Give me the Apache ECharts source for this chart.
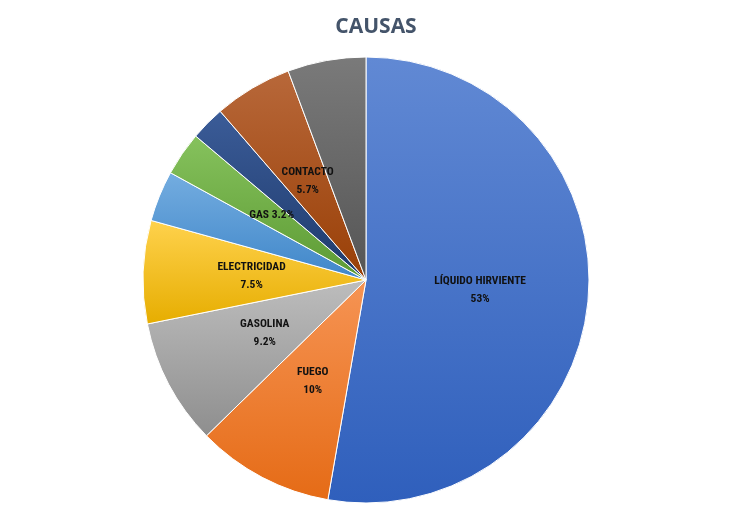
<!DOCTYPE html>
<html>
<head>
    <meta charset="utf-8">
    <title>Causas</title>
    <script src="https://cdn.jsdelivr.net/npm/echarts@6/dist/echarts.min.js"></script>
    <style>
        html, body {margin:0;padding:0;background:#fff;}
        #chart {width:752px;height:521px;}
    </style>
</head>
<body>
<div id="chart"></div>
<script>
    const categories = ['LÍQUIDO HIRVIENTE', 'FUEGO', 'GASOLINA', 'ELECTRICIDAD', 'QUÍMICO', 'GAS', 'POLVORA', 'CONTACTO', 'OTROS']
    const values = [53, 10, 9.2, 7.5, 3.7, 3.2, 2.5, 5.7, 5.7]
    const labels = ['LÍQUIDO HIRVIENTE\n53%', 'FUEGO\n10%', 'GASOLINA\n9.2%', 'ELECTRICIDAD\n7.5%', 'QUÍMICO\n3.7%', 'GAS 3.2%', 'POLVORA\n2.5%', 'CONTACTO\n5.7%', 'OTROS\n5.7%']
    // light / dark end of each slice gradient
    const colors = [
        ['#6189d4', '#2f5fbc'],
        ['#f69454', '#e56b16'],
        ['#bdbdbd', '#8e8e8e'],
        ['#ffd24d', '#e6ad00'],
        ['#74ade0', '#3f86c9'],
        ['#86c25d', '#5c9a33'],
        ['#3b5c98', '#1e3a6c'],
        ['#b8683a', '#993f06'],
        ['#7a7a7a', '#555555']
    ]

    const chart = echarts.init(document.getElementById('chart'))
    chart.setOption({
        animation: false,
        title: {
            text: 'CAUSAS', left: 'center', top: 12,
            textStyle: {fontSize: 21, fontWeight: 'bold', color: '#44546a', fontFamily: 'Open Sans'}
        },
        series: [{
            type: 'pie',
            center: [366, 280],
            radius: 223,
            startAngle: 90,
            clockwise: true,
            data: categories.map((c, i) => ({
                name: c,
                value: values[i],
                itemStyle: {
                    color: new echarts.graphic.LinearGradient(0, 0, 0, 1, [
                        {offset: 0, color: colors[i][0]},
                        {offset: 1, color: colors[i][1]}
                    ])
                },
                label: {formatter: labels[i]}
            })),
            itemStyle: {borderColor: '#fff', borderWidth: 1},
            label: {
                position: 'inside',
                color: '#111',
                fontSize: 11.5,
                fontWeight: 'bold',
                lineHeight: 18,
                fontFamily: 'Roboto Condensed, Liberation Sans Narrow, Roboto'
            },
            labelLine: {show: false}
        }]
    })
</script>
</body>
</html>
